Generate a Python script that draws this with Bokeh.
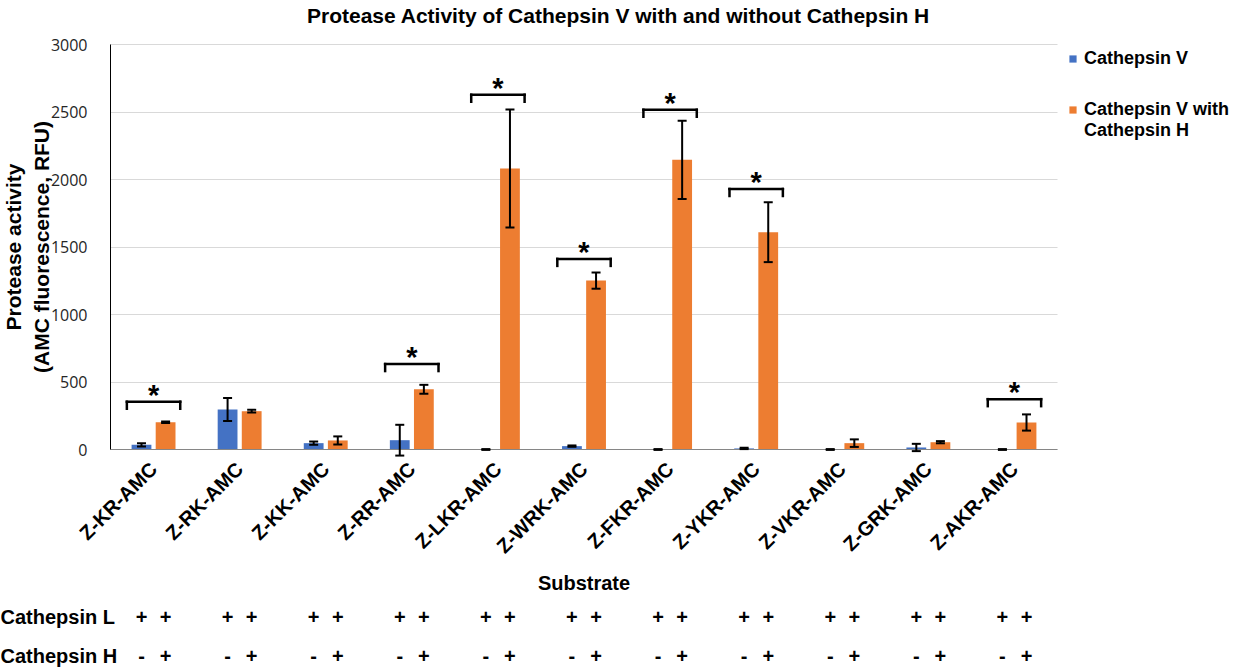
import math
from bokeh.plotting import figure
from bokeh.models import (ColumnDataSource, Whisker, TeeHead, Legend, LegendItem,
                          FixedTicker, Range1d, Label)
from bokeh.transform import dodge
from bokeh.embed import file_html
from bokeh.resources import INLINE
from bokeh.core.properties import value

# ---------------- data ----------------
substrates = ["Z-KR-AMC", "Z-RK-AMC", "Z-KK-AMC", "Z-RR-AMC", "Z-LKR-AMC", "Z-WRK-AMC",
              "Z-FKR-AMC", "Z-YKR-AMC", "Z-VKR-AMC", "Z-GRK-AMC", "Z-AKR-AMC"]
cathepsin_v = [35, 296, 47, 69, 0, 25, 0, 8, 0, 15, 0]
cathepsin_v_err = [12, 85, 12, 114, 3, 5, 3, 5, 3, 27, 3]
cathepsin_vh = [202, 284, 67, 446, 2082, 1251, 2146, 1610, 47, 54, 200]
cathepsin_vh_err = [5, 10, 30, 33, 437, 60, 290, 222, 28, 8, 60]

sig_substrates = ["Z-KR-AMC", "Z-RR-AMC", "Z-LKR-AMC", "Z-WRK-AMC", "Z-FKR-AMC",
                  "Z-YKR-AMC", "Z-AKR-AMC"]
sig_bracket = [353, 633, 2628, 1412, 2517, 1929, 373]
sig_mark = ["*"] * len(sig_substrates)

y_ticks = [0, 500, 1000, 1500, 2000, 2500, 3000]

cathepsin_l_no_h = ["+"] * len(substrates)
cathepsin_l_with_h = ["+"] * len(substrates)
cathepsin_h_no_h = ["-"] * len(substrates)
cathepsin_h_with_h = ["+"] * len(substrates)
row_names = ["Cathepsin L", "Cathepsin H"]

TITLE = "Protease Activity of Cathepsin V with and without Cathepsin H"

# ---------------- layout constants (pixels) ----------------
W, H = 1242, 668
AX_TOP = 44             # pixel row of y = 3000
AX_LEFT, AX_RIGHT = 110, 1057   # pixel span of the category axis
AX_ZERO = 449           # pixel row of y = 0
PX_PER_UNIT = (AX_ZERO - AX_TOP) / 3000.0
N = len(substrates)
CAT_PX = (AX_RIGHT - AX_LEFT) / N
X_START = -AX_LEFT / CAT_PX
X_END = N + (W - AX_RIGHT) / CAT_PX
Y_START = -(H - AX_ZERO) / PX_PER_UNIT
Y_END = AX_ZERO / PX_PER_UNIT
ROW_Y = [-(616 - AX_ZERO) / PX_PER_UNIT, -(655 - AX_ZERO) / PX_PER_UNIT]

FONT = "Liberation Sans"
BLUE = "#4472C4"
ORANGE = "#ED7D31"
OFF = 0.14
BAR_W = 0.23
BR_HALF = 0.31
BR_LEG = 52

pos = [i + 0.5 for i in range(N)]

src = ColumnDataSource(dict(
    pos=pos,
    v=cathepsin_v,
    v_lo=[a - b for a, b in zip(cathepsin_v, cathepsin_v_err)],
    v_hi=[a + b for a, b in zip(cathepsin_v, cathepsin_v_err)],
    vh=cathepsin_vh,
    vh_lo=[a - b for a, b in zip(cathepsin_vh, cathepsin_vh_err)],
    vh_hi=[a + b for a, b in zip(cathepsin_vh, cathepsin_vh_err)],
    l_no=cathepsin_l_no_h, l_with=cathepsin_l_with_h,
    h_no=cathepsin_h_no_h, h_with=cathepsin_h_with_h,
))
sig_src = ColumnDataSource(dict(
    pos=[substrates.index(s) + 0.5 for s in sig_substrates],
    y=sig_bracket,
    leg=[b - BR_LEG for b in sig_bracket],
    mark=sig_mark,
))

p = figure(title=None, x_range=Range1d(X_START, X_END), y_range=Range1d(Y_START, Y_END),
           width=W, height=H, output_backend="svg", toolbar_location=None,
           min_border_left=0, min_border_right=0, min_border_top=0,
           min_border_bottom=0)

r1 = p.vbar(x=dodge("pos", -OFF), top="v", width=BAR_W,
            source=src, fill_color=BLUE, line_color=None)
r2 = p.vbar(x=dodge("pos", OFF), top="vh", width=BAR_W,
            source=src, fill_color=ORANGE, line_color=None)
dummy = p.vbar(x=[], top=[], width=BAR_W, fill_alpha=0, line_alpha=0)

for base, lo, hi in [(dodge("pos", -OFF), "v_lo", "v_hi"),
                     (dodge("pos", OFF), "vh_lo", "vh_hi")]:
    w = Whisker(source=src, base=base, lower=lo, upper=hi,
                line_color="black", line_width=2, level="annotation",
                upper_head=TeeHead(size=9, line_width=2, line_color="black"),
                lower_head=TeeHead(size=9, line_width=2, line_color="black"))
    p.add_layout(w)

# significance brackets
p.segment(x0=dodge("pos", -BR_HALF), x1=dodge("pos", BR_HALF),
          y0="y", y1="y", source=sig_src, line_color="black", line_width=2.5,
          line_cap="square")
for side in (-BR_HALF, BR_HALF):
    p.segment(x0=dodge("pos", side), x1=dodge("pos", side),
              y0="y", y1="leg", source=sig_src, line_color="black", line_width=2.5,
              line_cap="square")
p.text(x="pos", y="y", text="mark", source=sig_src, text_align="center",
       text_baseline="alphabetic", y_offset=-7, text_font=value(FONT),
       text_font_size="29px", text_font_style="bold", text_color="black")

# title
p.add_layout(Label(x=618, y=H - 3, x_units="screen", y_units="screen", text=TITLE,
                   text_align="center", text_baseline="top", text_font=FONT,
                   text_font_size="21px", text_font_style="bold", text_color="black"))

# y axis at the left edge of the categories
p.yaxis.fixed_location = 0
p.yaxis.bounds = (0, 3000)
p.yaxis.ticker = FixedTicker(ticks=y_ticks)
p.yaxis.axis_line_color = "black"
p.yaxis.major_tick_line_color = None
p.yaxis.minor_tick_line_color = None
p.yaxis.major_label_text_font = "Open Sans"
p.yaxis.major_label_text_font_size = "16px"
p.yaxis.major_label_text_color = "#262626"
p.yaxis.major_label_standoff = 17
p.yaxis.axis_label = "Protease activity\n(AMC fluorescence, RFU)"
p.yaxis.axis_label_text_font = FONT
p.yaxis.axis_label_text_font_size = "21px"
p.yaxis.axis_label_text_font_style = "bold"
p.yaxis.axis_label_text_color = "black"
p.yaxis.axis_label_standoff = -5

# x axis at y = 0
p.xaxis.fixed_location = 0
p.xaxis.bounds = (0, N)
p.xaxis.ticker = FixedTicker(ticks=pos)
p.xaxis.major_label_overrides = {x: s for x, s in zip(pos, substrates)}
p.xaxis.axis_line_color = "#868686"
p.xaxis.major_tick_line_color = None
p.xaxis.minor_tick_line_color = None
p.xaxis.major_label_orientation = math.pi / 4
p.xaxis.major_label_text_font = FONT
p.xaxis.major_label_text_font_size = "20px"
p.xaxis.major_label_text_font_style = "bold"
p.xaxis.major_label_text_color = "black"
p.xaxis.major_label_standoff = 10
p.xaxis.axis_label = "Substrate"
p.xaxis.axis_label_text_font = FONT
p.xaxis.axis_label_text_font_size = "20px"
p.xaxis.axis_label_text_font_style = "bold"
p.xaxis.axis_label_text_color = "black"
p.xaxis.axis_label_standoff = 4

p.xgrid.grid_line_color = None
p.ygrid.grid_line_color = "#d9d9d9"
try:
    p.ygrid.cross_bounds = (0, N)
except Exception:
    p.ygrid.grid_line_color = None
    p.segment(x0=0, x1=N, y0=y_ticks, y1=y_ticks, line_color="#d9d9d9", level="underlay")
p.outline_line_color = None

# legends (right of the category area)
common = dict(border_line_color=None, background_fill_alpha=0,
              label_text_font=FONT, label_text_font_size="18px",
              label_text_font_style="bold", label_text_color="black",
              glyph_width=9, glyph_height=9, label_standoff=7, label_height=21,
              spacing=0, padding=0, margin=0)
leg_a = Legend(items=[LegendItem(label="Cathepsin V", renderers=[r1])],
               location=(1068, H - 69), **common)
leg_b = Legend(items=[LegendItem(label="Cathepsin V with", renderers=[r2]),
                      LegendItem(label="Cathepsin H", renderers=[dummy])],
               location=(1068, H - 141), **common)
p.add_layout(leg_a)
p.add_layout(leg_b)

# condition table below the axis
p.text(x=X_START, y=ROW_Y, text=row_names, text_align="left", text_baseline="middle",
       text_font=value(FONT), text_font_size="20px", text_font_style="bold",
       text_color="black")
for off, col, yrow in [(-OFF, "l_no", ROW_Y[0]), (OFF, "l_with", ROW_Y[0]),
                       (-OFF, "h_no", ROW_Y[1]), (OFF, "h_with", ROW_Y[1])]:
    p.text(x=dodge("pos", off), y=yrow, text=col, source=src,
           text_align="center", text_baseline="middle", text_font=value(FONT),
           text_font_size="20px", text_font_style="bold", text_color="black")

open("out.html", "w").write(file_html(p, INLINE))
